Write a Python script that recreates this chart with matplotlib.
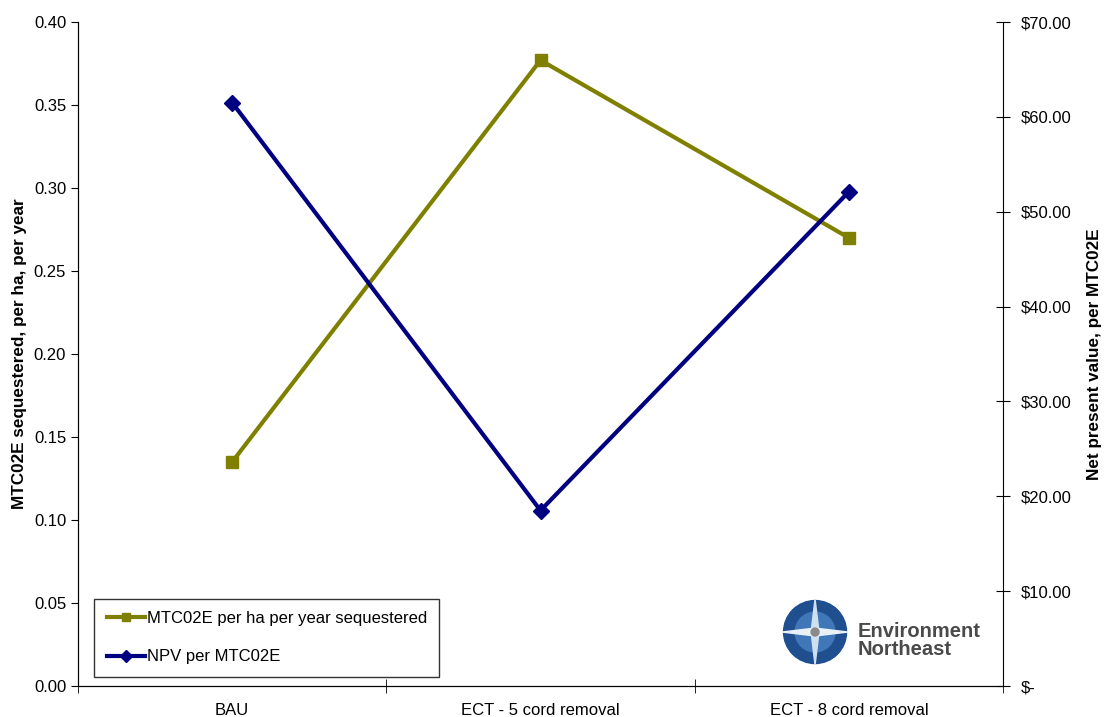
import numpy as np
import matplotlib
matplotlib.use('Agg')
import matplotlib.pyplot as plt
from matplotlib.patches import Circle, Polygon

plt.rcParams['font.family'] = ['Liberation Sans', 'DejaVu Sans']

categories = ['BAU', 'ECT - 5 cord removal', 'ECT - 8 cord removal']
mtc_sequestered = [0.135, 0.377, 0.270]
npv_per_mtc = [61.5, 18.5, 52.1]

olive = '#808000'
navy = '#000080'

fig = plt.figure(figsize=(11.05, 7.17), dpi=100)
ax = fig.add_axes([0.0706, 0.0432, 0.8371, 0.9261])
ax2 = ax.twinx()

x = np.arange(len(categories))
l1, = ax.plot(x, mtc_sequestered, color=olive, lw=3, marker='s', ms=8,
              label='MTC02E per ha per year sequestered')
l2, = ax2.plot(x, npv_per_mtc, color=navy, lw=3, marker='D', ms=8,
               label='NPV per MTC02E')

ax.set_xlim(-0.5, 2.5)
ax.set_ylim(0, 0.40)
ax2.set_ylim(0, 70)
ax.set_yticks(np.arange(0, 0.41, 0.05))
ax.set_yticklabels([f'{v:.2f}' for v in np.arange(0, 0.41, 0.05)])
ax2.set_yticks(np.arange(0, 71, 10))
ax2.set_yticklabels(['$-'] + [f'${v:.2f}' for v in range(10, 71, 10)])

ax.set_xticks(x)
ax.set_xticklabels(categories)
ax.tick_params(axis='x', length=0, labelsize=12, pad=12)
ax.set_xticks([-0.5, 0.5, 1.5, 2.5], minor=True)
ax.tick_params(axis='x', which='minor', direction='inout', length=10)
ax.tick_params(axis='y', labelsize=12, direction='out', length=5)
ax2.tick_params(axis='y', labelsize=12, direction='inout', length=10, pad=8)

for a in (ax, ax2):
    a.spines['top'].set_visible(False)
ax.spines['right'].set_visible(False)

ax.set_ylabel('MTC02E sequestered, per ha, per year', fontsize=12.3,
              fontweight='bold', labelpad=5)
ax2.set_ylabel('Net present value, per MTC02E', fontsize=12.3,
               fontweight='bold', labelpad=11)

leg = ax2.legend(handles=[l1, l2], loc='lower left',
                 bbox_to_anchor=(0.0173, 0.0136), borderaxespad=0,
                 fontsize=12, frameon=True, fancybox=False,
                 edgecolor='black', borderpad=0.75, labelspacing=1.4,
                 handlelength=2.3, handletextpad=0.1, markerscale=0.8)
leg.get_frame().set_linewidth(1.0)

# Environment Northeast logo (approximation)
lax = fig.add_axes([0.7076, 0.071, 0.06, 0.095])
lax.set_xlim(-1, 1)
lax.set_ylim(-1, 1)
lax.set_aspect('equal')
lax.axis('off')
lax.add_patch(Circle((0, 0), 0.95, color='#1f4f8f'))
lax.add_patch(Circle((0, 0), 0.6, color='#3f77b8'))
lax.add_patch(Polygon([(0, 1), (0.12, 0), (0, -1), (-0.12, 0)], color='#cfe0f0'))
lax.add_patch(Polygon([(1, 0), (0, 0.12), (-1, 0), (0, -0.12)], color='#e8f0f8'))
lax.add_patch(Circle((0, 0), 0.12, color='#8a8a8a'))
fig.text(0.776, 0.107, 'Environment\nNortheast', fontsize=14.5, fontweight='bold',
         color='#4a4a4a', va='center', ha='left', linespacing=0.9)

fig.savefig('out.png', dpi=100)
